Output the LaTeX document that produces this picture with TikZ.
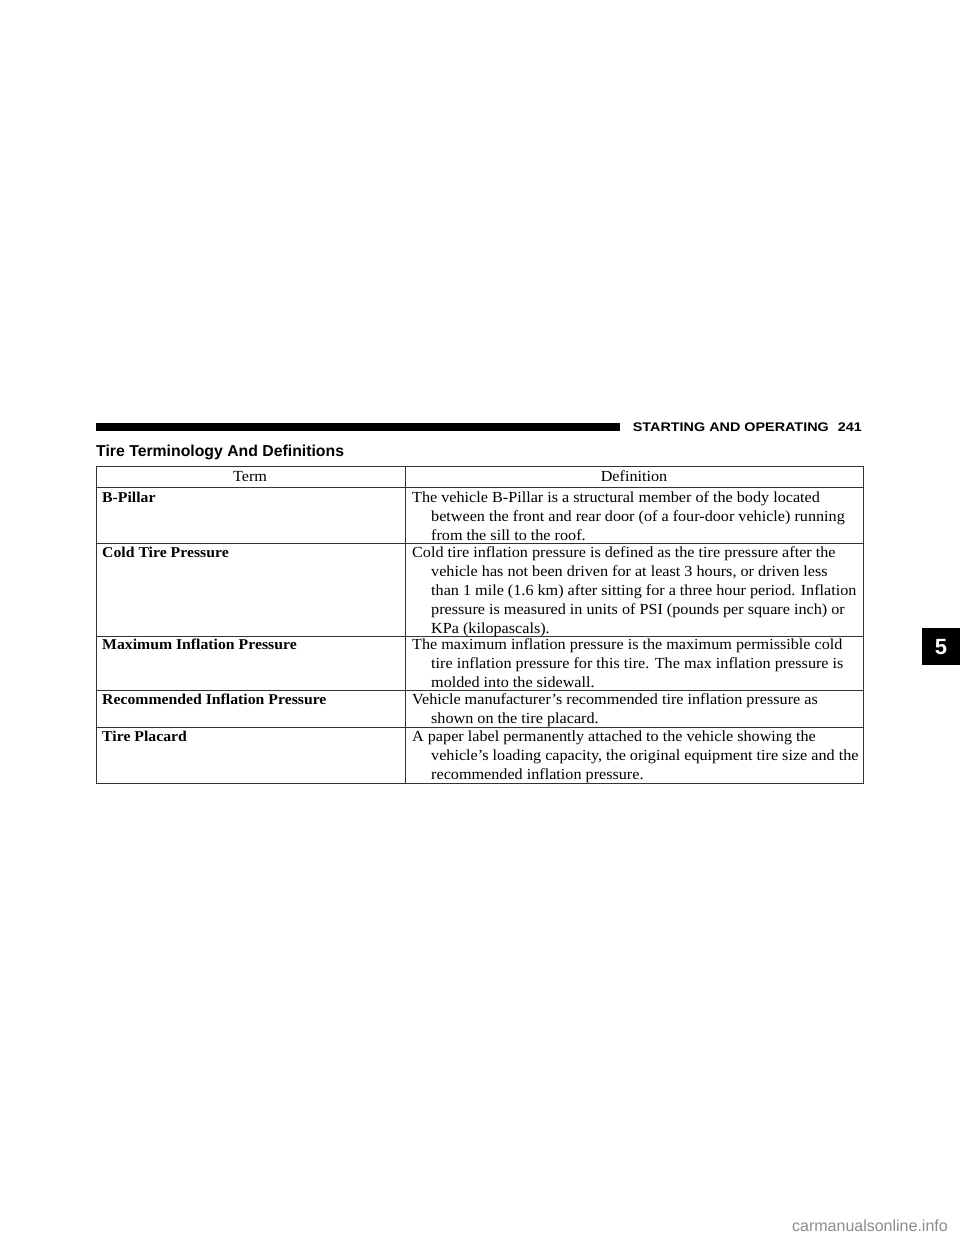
\documentclass[tikz,border=0pt]{standalone}
\usepackage{fontspec}
\setmainfont{Liberation Serif}[FakeStretch=1.05]
\newfontfamily\hsans{Liberation Sans}
\newfontfamily\hwide{Liberation Sans}[FakeStretch=1.15]
\begin{document}
\begin{tikzpicture}[x=1pt,y=-1pt,
 body/.style={anchor=base west,inner sep=0pt,font=\fontsize{15.4}{15}\selectfont},
 term/.style={body,font=\fontsize{15}{15}\selectfont\bfseries},
 rule/.style={line width=0.8pt,draw=black!80}]
\useasboundingbox (0,0) rectangle (960,1242);
\fill[white] (0,0) rectangle (960,1242);
\fill[black] (96,423) rectangle (620,431);
\node[anchor=base east,inner sep=0pt,font=\hwide\bfseries\fontsize{12.5}{13}\selectfont] (hd) at (862,431) {STARTING AND OPERATING\hspace{9pt}241};
\node[anchor=base west,inner sep=0pt,font=\hsans\bfseries\fontsize{15.8}{16}\selectfont] (title) at (96,456) {Tire Terminology And Definitions};
\fill[black] (922,628) rectangle (960,665);
\node[text=white,font=\hsans\bfseries\fontsize{22}{22}\selectfont] (tab) at (941,647) {5};
% table
\draw[rule] (96,466) rectangle (863,783);
\foreach \yy in {487,543,636,690,727} \draw[rule] (96,\yy) -- (863,\yy);
\draw[rule] (405,466) -- (405,783);
\node[body,anchor=base] (h1) at (250,481) {Term};
\node[body,anchor=base] (h2) at (634,481) {Definition};
% rows
\node[term] (t1) at (102,502) {B-Pillar};
\node[body] (d1a) at (412,502) {The vehicle B-Pillar is a structural member of the body located};
\node[body] (d1b) at (431,521) {between the front and rear door (of a four-door vehicle) running};
\node[body] (d1c) at (431,540) {from the sill to the roof.};
\node[term] (t2) at (102,557) {Cold Tire Pressure};
\node[body] (d2a) at (412,557) {Cold tire inflation pressure is defined as the tire pressure after the};
\node[body] (d2b) at (431,576) {vehicle has not been driven for at least 3 hours, or driven less};
\node[body] (d2c) at (431,595) {than 1 mile (1.6 km) after sitting for a three hour period. Inflation};
\node[body] (d2d) at (431,614) {pressure is measured in units of PSI (pounds per square inch) or};
\node[body] (d2e) at (431,633) {KPa (kilopascals).};
\node[term] (t3) at (102,649) {Maximum Inflation Pressure};
\node[body] (d3a) at (412,649) {The maximum inflation pressure is the maximum permissible cold};
\node[body] (d3b) at (431,668) {tire inflation pressure for this tire. The max inflation pressure is};
\node[body] (d3c) at (431,687) {molded into the sidewall.};
\node[term] (t4) at (102,704) {Recommended Inflation Pressure};
\node[body] (d4a) at (412,704) {Vehicle manufacturer’s recommended tire inflation pressure as};
\node[body] (d4b) at (431,723) {shown on the tire placard.};
\node[term] (t5) at (102,741) {Tire Placard};
\node[body] (d5a) at (412,741) {A paper label permanently attached to the vehicle showing the};
\node[body] (d5b) at (431,760) {vehicle’s loading capacity, the original equipment tire size and the};
\node[body] (d5c) at (431,779) {recommended inflation pressure.};
\node[anchor=base east,inner sep=0pt,text=black!45,font=\hsans\fontsize{16}{16}\selectfont] (wm) at (948,1231) {carmanualsonline.info};
\end{tikzpicture}
\end{document}
